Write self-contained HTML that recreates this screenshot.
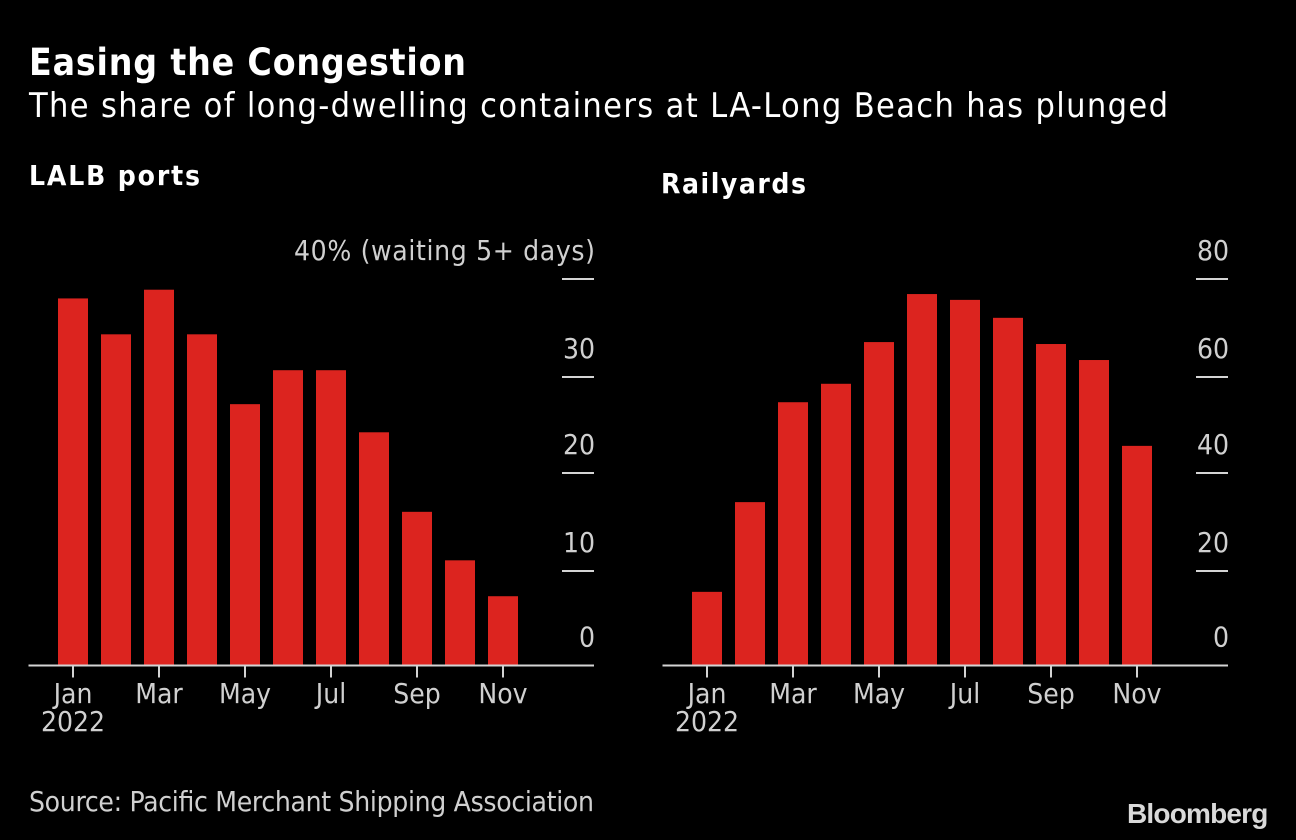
<!DOCTYPE html>
<html>
<head>
<meta charset="utf-8">
<style>
html,body{margin:0;padding:0;background:#000;width:1296px;height:840px;overflow:hidden}
svg{display:block}
text{font-family:"DejaVu Sans",sans-serif;font-stretch:condensed}
.head{fill:#fff}
.tick{fill:#d0d0d0;font-size:28px}
</style>
</head>
<body>
<svg id="chart" width="1296" height="840" viewBox="0 0 1296 840" xmlns="http://www.w3.org/2000/svg">
<rect width="1296" height="840" fill="#000"/>
<text class="head" x="29" y="75" font-size="37" font-weight="700" textLength="437">Easing the Congestion</text>
<text class="head" x="29" y="117" font-size="34" textLength="1139">The share of long-dwelling containers at LA-Long Beach has plunged</text>
<text class="head" x="29" y="185" font-size="28" font-weight="700" textLength="171">LALB ports</text>
<text class="head" x="661" y="193" font-size="28" font-weight="700" textLength="145">Railyards</text>
<text class="tick" x="29" y="811" textLength="565">Source: Pacific Merchant Shipping Association</text>
<text x="1127" y="823" fill="#d9d9d9" font-size="28" font-weight="700" letter-spacing="-0.8" style="font-family:'Liberation Sans',sans-serif;font-stretch:normal">Bloomberg</text>
<g id="plots"></g>
</svg>
<script>
const months = ["Jan","Feb","Mar","Apr","May","Jun","Jul","Aug","Sep","Oct","Nov"];
const xLabels = ["Jan","Mar","May","Jul","Sep","Nov"];
const yearLabel = "2022";
const portValues = [38.1, 34.4, 39, 34.4, 27.2, 30.7, 30.7, 24.3, 16.1, 11.1, 7.4];
const railValues = [15.7, 34.2, 54.8, 58.6, 67.2, 77.1, 75.9, 72.2, 66.8, 63.5, 45.8];
const portTicks = [0, 10, 20, 30, 40];
const railTicks = [0, 20, 40, 60, 80];

const NS = "http://www.w3.org/2000/svg";
const root = document.getElementById("plots");

function drawPanel(name, originX, values, ticks, topLabel) {
  const axisLeft = originX;
  const axisRight = originX + 565.5;
  const zeroY = 668;
  const topY = 280;
  const axisY = 665.5;
  const maxTick = ticks[ticks.length - 1];
  const firstCenter = originX + 44.5;
  const step = 43;
  const barWidth = 30;
  const xScale = function (i) { return firstCenter + i * step; };
  const yScale = function (v) { return zeroY - (v / maxTick) * (zeroY - topY); };
  const snap = function (y) { return 2 * Math.floor((y - 1) / 2) + 1; };

  const g = document.createElementNS(NS, "g");
  
  
  root.appendChild(g);

  values.forEach(function (v, i) {
    const bar = document.createElementNS(NS, "rect");
    
    
    bar.setAttribute("x", xScale(i) - barWidth / 2);
    bar.setAttribute("y", yScale(v));
    bar.setAttribute("width", barWidth);
    bar.setAttribute("height", axisY - yScale(v));
    bar.setAttribute("fill", "#dc241f");
    g.appendChild(bar);
  });

  const axis = document.createElementNS(NS, "rect");
  
  
  axis.setAttribute("x", axisLeft);
  axis.setAttribute("y", axisY - 1);
  axis.setAttribute("width", axisRight - axisLeft);
  axis.setAttribute("height", 2);
  axis.setAttribute("fill", "#d4d4d4");
  g.appendChild(axis);

  xLabels.forEach(function (label) {
    const i = months.indexOf(label);
    const mark = document.createElementNS(NS, "rect");
    
    
    mark.setAttribute("x", xScale(i) - 1);
    mark.setAttribute("y", axisY);
    mark.setAttribute("width", 2);
    mark.setAttribute("height", 12);
    mark.setAttribute("fill", "#d4d4d4");
    g.appendChild(mark);

    const t = document.createElementNS(NS, "text");
    
    
    t.setAttribute("class", "tick");
    t.setAttribute("x", xScale(i));
    t.setAttribute("y", 703);
    t.setAttribute("text-anchor", "middle");
    t.textContent = label;
    g.appendChild(t);
  });

  const year = document.createElementNS(NS, "text");
  
  
  year.setAttribute("class", "tick");
  year.setAttribute("x", xScale(0));
  year.setAttribute("y", 731);
  year.setAttribute("text-anchor", "middle");
  year.textContent = yearLabel;
  g.appendChild(year);

  ticks.forEach(function (v, idx) {
    const y = v === 0 ? axisY : snap(yScale(v));
    if (v !== 0) {
      const line = document.createElementNS(NS, "rect");
      
      
      line.setAttribute("x", axisRight - 32);
      line.setAttribute("y", y - 1);
      line.setAttribute("width", 32);
      line.setAttribute("height", 2);
      line.setAttribute("fill", "#d4d4d4");
      g.appendChild(line);
    }
    const t = document.createElementNS(NS, "text");
    
    
    t.setAttribute("class", "tick");
    t.setAttribute("x", axisRight + 1);
    t.setAttribute("y", y - 19);
    t.setAttribute("text-anchor", "end");
    if (idx === ticks.length - 1 && topLabel) {
      t.setAttribute("textLength", 301);
      t.textContent = topLabel;
    } else {
      t.textContent = String(v);
    }
    g.appendChild(t);
  });
}

drawPanel("ports", 28.5, portValues, portTicks, "40% (waiting 5+ days)");
drawPanel("railyards", 662.5, railValues, railTicks, "");
</script>
</body>
</html>
